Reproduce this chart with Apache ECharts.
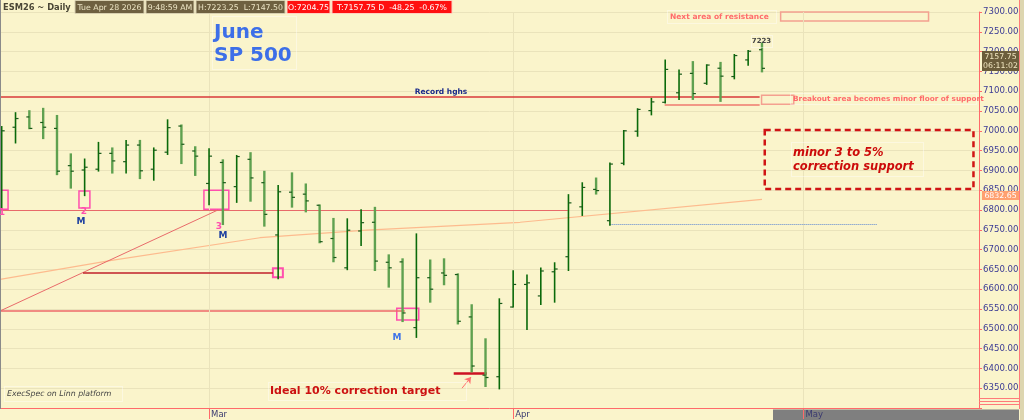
<!DOCTYPE html>
<html><head><meta charset="utf-8">
<script src="https://cdn.jsdelivr.net/npm/echarts@6/dist/echarts.min.js"></script>
<style>html,body{margin:0;padding:0;background:#FAF4CB;}#c{width:1024px;height:420px;}</style>
</head><body><div id="c"></div>
<script>
// ---- data ----
const monthLabels = ['Mar', 'Apr', 'May'];
const monthIndex = [15, 37, 58];          // bar index of first session of the month
const openP  = [6842,7009,7035,7021,7006,6912,6901,6903,6943,6922,6964,6903,6946,7012,6949,6867,6920,6859,6928,6869,
                6737,6845,6840,6812,6728,6654,6747,6769,6668,6669,6503,6629,6641,6637,6530,6383,6379,6555,6612,6583,
                6644,6682,6808,6852,6773,6918,6999,7051,7072,7096,7145,7120,7158,7137,7179,7204.75];
const highP  = [7012,7047,7052,7058,7040,6943,6930,6972,6958,6977,6977,6958,7029,7016,6961,6956,6928,6939,6946,6899,
                6863,6895,6867,6814,6780,6779,6802,6808,6688,6678,6741,6675,6678,6640,6562,6476,6577,6648,6637,6655,
                6668,6840,6870,6882,6920,7002,7057,7083,7180,7155,7176,7168,7174,7194,7204,7223.25];
const lowP   = [6802,6968,7004,6979,6888,6854,6835,6897,6892,6892,6878,6874,6939,6916,6886,6812,6762,6818,6821,6758,
                6625,6806,6794,6716,6668,6648,6709,6646,6604,6517,6477,6566,6610,6511,6390,6353,6347,6554,6497,6560,
                6566,6646,6785,6839,6760,6913,6985,7039,7069,7078,7078,7116,7073,7130,7164,7147.5];
const closeP = [7000,7031,7006,7009,6898,6898,6908,6943,6924,6964,6899,6951,7008,6966,6936,6936,6869,6935,6881,6789,
                6846,6832,6823,6720,6680,6749,6768,6671,6654,6540,6629,6600,6635,6519,6406,6377,6564,6612,6616,6646,
                6651,6818,6857,6849,6916,7000,7054,7073,7155,7143,7094,7166,7138,7190,7201,7157.75];
// moving-average line (bar index, price)
const maIndex = [-0.12, 7.83, 18.68, 26.4, 37.5, 55];
const maValue = [6625, 6672, 6730, 6749, 6769, 6827];
const maLast = 6832.65;
// annotation levels
const recordHigh = 7087, breakoutFloor = 7067, pivotLevel = 6800, lowerPivot = 6545, midPivot = 6641;
const blueLevel = 6764, targetLevel = 6389;

// ---- build ----
const ohlc = openP.map((o, i) => [i, o, highP[i], lowP[i], closeP[i]]);
const maData = maIndex.map((x, i) => [x, maValue[i]]);

const RED = '#d83a3a', SALMON = '#ef7a6e', PINK = '#ff4fae';
function seg(x1, y1, x2, y2, color, width, type) {
  const ls = {color: color, width: width, type: type || 'solid'};
  return [{coord: [x1, y1], lineStyle: ls, itemStyle: {color: color}}, {coord: [x2, y2], lineStyle: ls, itemStyle: {color: color}}];
}
function box(x1, y1, x2, y2, color, width, type) {
  return [{coord: [x1, y1], itemStyle: {color: 'rgba(0,0,0,0)', borderColor: color, borderWidth: width, borderType: type || 'solid'}}, {coord: [x2, y2]}];
}

const FONT = 'DejaVu Sans';
function txt(x, y, s, font, color, align) {
  return {type: 'text', x: x, y: y, z: 100, silent: true,
    style: {text: s, font: font, fill: color, textAlign: align || 'left', align: align || 'left',
            textVerticalAlign: 'middle', verticalAlign: 'middle'}};
}
function rct(x, y, w, h, fill, stroke, dash, z) {
  const st = {fill: fill || 'none', stroke: stroke || 'none', lineWidth: 1};
  if (dash) st.lineDash = dash;
  return {type: 'rect', z: z === undefined ? 90 : z, silent: true, shape: {x: x, y: y, width: w, height: h}, style: st};
}
function ln(x1, y1, x2, y2, color, w, z) {
  return {type: 'line', z: z === undefined ? 90 : z, silent: true, shape: {x1: x1, y1: y1, x2: x2, y2: y2}, style: {stroke: color, lineWidth: w || 1}};
}

const HF = '7.8px ' + FONT;
const hdr = [
  txt(3, 7.5, 'ESM26 ~ Daily', 'bold 8.3px ' + FONT, '#4a4636'),
  rct(75, 0.5, 69, 13, '#6e6040', '#d8d0b0'), txt(109.5, 7.5, 'Tue Apr 28 2026', HF, '#ece4c4', 'center'),
  rct(146, 0.5, 48, 13, '#6e6040', '#d8d0b0'), txt(170, 7.5, '9:48:59 AM', HF, '#ece4c4', 'center'),
  rct(196, 0.5, 89, 13, '#6e6040', '#d8d0b0'), txt(240.5, 7.5, 'H:7223.25  L:7147.50', HF, '#ece4c4', 'center'),
  rct(287, 0.5, 43, 13, '#ff1010', '#ffd0c0'), txt(308.5, 7.5, 'O:7204.75', HF, '#ffffff', 'center'),
  rct(332, 0.5, 120, 13, '#ff1010', '#ffd0c0'), txt(392, 7.5, 'T:7157.75 D  -48.25  -0.67%', HF, '#ffffff', 'center')
];
const notes = [
  rct(212.5, 16.5, 84, 53, null, 'rgba(255,255,255,0.8)', [1, 1]),
  txt(214, 33, 'June', 'bold 20px ' + FONT, '#3d6fe8'),
  txt(214, 56, 'SP 500', 'bold 20px ' + FONT, '#3d6fe8'),
  rct(667.5, 10.5, 109, 13, null, 'rgba(255,255,255,0.8)', [1, 1]),
  txt(670, 17, 'Next area of resistance', 'bold 7.5px ' + FONT, '#ff6b6b'),
  txt(441, 92, 'Record hghs', 'bold 7.5px ' + FONT, '#1a2a8a', 'center'),
  rct(790.5, 93.5, 186, 11, null, 'rgba(255,255,255,0.8)', [1, 1]),
  txt(793, 99, 'Breakout area becomes minor floor of support', 'bold 7.3px ' + FONT, '#ff6b6b'),
  rct(751.5, 35.5, 21, 12, null, 'rgba(255,255,255,0.8)', [1, 1]),
  txt(761.5, 41.5, '7223', 'bold 7px ' + FONT, '#444444', 'center'),
  rct(791.5, 142.5, 132, 34, null, 'rgba(255,255,255,0.8)', [1, 1]),
  txt(793, 153, 'minor 3 to 5%', 'italic bold 11.5px ' + FONT, '#cc0a0a'),
  txt(793, 167, 'correction support', 'italic bold 11.5px ' + FONT, '#cc0a0a'),
  rct(268.5, 382.5, 198, 18, null, 'rgba(255,255,255,0.8)', [1, 1]),
  txt(270, 391.5, 'Ideal 10% correction target', 'bold 11px ' + FONT, '#cc1111'),
  rct(4.5, 386.5, 118, 15, null, 'rgba(255,255,255,0.8)', [1, 1]),
  txt(7, 394, 'ExecSpec on Linn platform', 'italic 7.8px ' + FONT, '#444444'),
  txt(2, 213, '1', 'bold 9px ' + FONT, PINK, 'center'),
  txt(84, 212, '2', 'bold 9px ' + FONT, PINK, 'center'),
  txt(81, 221.5, 'M', 'bold 9px ' + FONT, '#1e40a0', 'center'),
  txt(219, 227, '3', 'bold 9px ' + FONT, PINK, 'center'),
  txt(223, 236, 'M', 'bold 9px ' + FONT, '#1e40a0', 'center'),
  txt(397, 337.5, 'M', 'bold 9px ' + FONT, '#3f74e8', 'center')
];
const frame = [
  ln(0.5, 0, 0.5, 409, '#8a8a8a', 1),
  ln(1019.5, 0, 1019.5, 409, '#ff7a7a', 1),
  ln(979, 398.5, 1019, 398.5, '#ff7a7a', 1),
  ln(979, 401.5, 1019, 401.5, '#ff7a7a', 1),
  ln(979, 404.5, 1019, 404.5, '#ff7a7a', 1),
  rct(773, 409.5, 246, 11, '#7f7f7f', null, null, -1),
  rct(1020, 0, 4, 420, '#ddd6b0', null, null, -1),
  rct(982, 51, 37, 20, '#6b5d3b', null, null, 110),
  txt(1000.5, 56.5, '7157.75', '7.8px ' + FONT, '#f0e6c0', 'center'),
  txt(1000.5, 66, '06:11:02', '7.8px ' + FONT, '#f0e6c0', 'center'),
  rct(982, 191, 37, 9, '#ffa070', null, null, 110),
  txt(1000.5, 195.5, maLast.toFixed(2), '7.8px ' + FONT, '#ffffff', 'center')
];
frame.forEach(e => { if (e.type === 'text') e.z = 120; });

const chart = echarts.init(document.getElementById('c'), null, {renderer: 'canvas'});
chart.setOption({
  animation: false,
  backgroundColor: 'transparent',
  grid: {left: 0, right: 45, top: 12, bottom: 12, containLabel: false, outerBoundsMode: 'none'},
  xAxis: {
    type: 'value', min: -0.123, max: 70.70,
    axisLine: {show: true, onZero: false, lineStyle: {color: '#ff6a6a', width: 1}},
    axisTick: {show: true, customValues: monthIndex, length: 11, lineStyle: {color: '#ff6a6a'}},
    axisLabel: {show: true, customValues: monthIndex, align: 'left', margin: 2, padding: [0, 0, 0, 2],
      fontSize: 8.5, fontFamily: FONT, color: '#3a3a70',
      formatter: v => monthLabels[monthIndex.indexOf(Math.round(v))] || ''},
    splitLine: {show: false}
  },
  yAxis: {
    type: 'value', position: 'right', min: 6300, max: 7300, interval: 50,
    axisLine: {show: true, onZero: false, lineStyle: {color: '#ff6a6a', width: 1}},
    axisTick: {show: true, length: 3, lineStyle: {color: '#ff6a6a'}},
    axisLabel: {margin: 4, fontSize: 8.6, fontFamily: FONT, color: '#3b3b95',
      formatter: v => v === 6300 ? '' : v.toFixed(2)},
    splitLine: {show: true, lineStyle: {color: '#EAE3BB', width: 1}}
  },
  graphic: {elements: hdr.concat(notes, frame)},
  series: [
    {
      type: 'line', name: 'MA', data: maData, showSymbol: false, smooth: false, silent: true, z: 1,
      lineStyle: {color: '#FDBB8E', width: 1.2},
      markLine: {
        silent: true, symbol: ['none', 'none'], label: {show: false}, animation: false,
        data: [
          {xAxis: monthIndex[0], lineStyle: {color: '#EAE3BB', width: 1, type: 'solid'}},
          {xAxis: monthIndex[1], lineStyle: {color: '#EAE3BB', width: 1, type: 'solid'}},
          {xAxis: monthIndex[2], lineStyle: {color: '#EAE3BB', width: 1, type: 'solid'}},
          seg(-0.12, recordHigh, 54.83, recordHigh, RED, 1.5),
          seg(47.96, breakoutFloor, 54.83, breakoutFloor, SALMON, 1.5),
          seg(-0.12, pivotLevel, 40.95, pivotLevel, '#e86a6a', 1.2),
          seg(-0.12, lowerPivot, 15.64, pivotLevel, '#e86a6a', 1),
          seg(5.88, midPivot, 19.62, midPivot, '#c0202a', 1.5),
          seg(43.98, blueLevel, 63.36, blueLevel, '#5b86d4', 1, 'dotted'),
          seg(32.7, targetLevel, 35.09, targetLevel, '#cc1122', 2.5)
        ]
      },
      markArea: {
        silent: true, label: {show: false},
        data: [
          box(-0.12, 6850, 0.46, 6802, PINK, 1.5),
          box(5.59, 6848, 6.38, 6805, PINK, 1.5),
          box(14.63, 6850, 16.43, 6802, PINK, 1.5),
          box(28.58, 6552, 30.17, 6522, PINK, 1.5),
          box(19.62, 6653, 20.34, 6630, PINK, 2),
          box(54.97, 7090, 57.3, 7067, '#f4a090', 1.5),
          box(56.35, 7300, 67.05, 7277, '#f4a090', 1.5),
          box(55.2, 7002, 70.3, 6853, '#d01515', 2.5, [6, 4])
        ]
      }
    },
    {
      type: 'line', name: 'lowerPivot', silent: true, showSymbol: false, z: 2,
      data: [[-0.12, lowerPivot], [29.16, lowerPivot]],
      lineStyle: {color: '#ee6a6a', width: 1.3}
    },
    {
      type: 'line', name: 'arrow', data: [], silent: true,
      markLine: {silent: true, symbol: ['none', 'arrow'], symbolSize: 6, label: {show: false},
        data: [[{coord: [33.3, 6350], lineStyle: {color: '#ff7070', width: 1, type: 'solid'}, itemStyle: {color: '#ff7070'}},
                {coord: [33.95, 6378], itemStyle: {color: '#ff7070'}}]]}
    },
    {
      type: 'custom', name: 'ESM26', data: ohlc, z: 5,
      encode: {x: 0, y: [1, 2, 3, 4]},
      renderItem: function (params, api) {
        const i = api.value(0), o = api.value(1), h = api.value(2), l = api.value(3), c = api.value(4);
        const pH = api.coord([i, h]), pL = api.coord([i, l]), pO = api.coord([i, o]), pC = api.coord([i, c]);
        const up = c >= o;
        const col = up ? '#0a6a0a' : '#5fa150';
        const w = up ? 1.6 : 2.4;
        return {type: 'group', children: [
          {type: 'line', shape: {x1: pH[0], y1: pH[1], x2: pL[0], y2: pL[1]}, style: {stroke: col, lineWidth: w}},
          {type: 'line', shape: {x1: pO[0] - 3, y1: pO[1], x2: pO[0], y2: pO[1]}, style: {stroke: '#1a5a1a', lineWidth: 1.2}},
          {type: 'line', shape: {x1: pC[0], y1: pC[1], x2: pC[0] + 3, y2: pC[1]}, style: {stroke: '#1a5a1a', lineWidth: 1.2}}
        ]};
      }
    }
  ]
});
</script></body></html>
